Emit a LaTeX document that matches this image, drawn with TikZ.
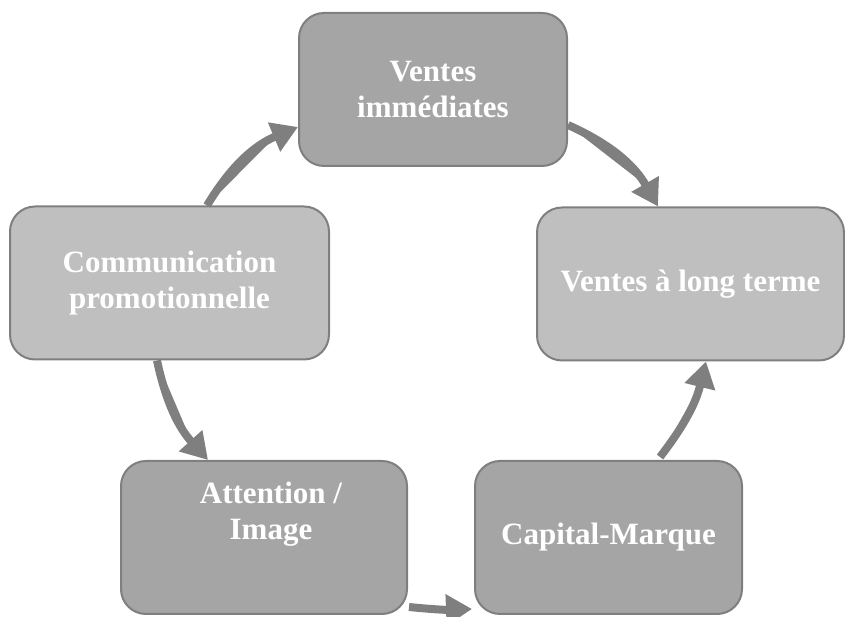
\documentclass[tikz,border=0pt]{standalone}
\usepackage{fontspec}
\setmainfont{Liberation Serif}
\usetikzlibrary{arrows.meta}
\definecolor{edgegray}{HTML}{7F7F7F}
\definecolor{darkfill}{HTML}{A5A5A5}
\definecolor{lightfill}{HTML}{BFBFBF}
\begin{document}
\begin{tikzpicture}[x=1pt,y=1pt,
  box/.style={draw=edgegray, line width=2pt, rounded corners=25pt, minimum height=153pt,
    inner sep=0pt, text=white, align=center,
    font=\fontsize{31}{36}\selectfont\bfseries},
  darkbox/.style={box, fill=darkfill},
  lightbox/.style={box, fill=lightfill},
  lbl/.style={text=white, align=center, inner sep=0pt, font=\fontsize{31}{36}\selectfont\bfseries},
  cyc/.style={draw=edgegray, line width=8pt, -{Triangle[length=26pt,width=30pt]}, fill=edgegray}
]
\useasboundingbox (0,0) rectangle (845,617);
\node[darkbox, minimum width=268pt] (vi) at (433,527.5) {Ventes\\immédiates};
\node[lightbox, minimum width=307pt] (vlt) at (690.5,333) {Ventes à long terme};
\node[darkbox, minimum width=267pt] (cap) at (608.5,79.5) {Capital-Marque};
\node[darkbox, minimum width=286pt] (att) at (264,79.5) {};
\node[lbl] (attlbl) at (271,103) {Attention /\\Image};
\node[lightbox, minimum width=319pt] (comm) at (169.5,334) {Communication\\promotionnelle};

\draw[cyc] ([xshift=37.5pt]comm.north) to[bend left=18] ([yshift=-37.5pt]vi.west);
\draw[cyc] ([yshift=-35.5pt]vi.east) to[bend left=18] ([xshift=-32.5pt]vlt.north);
\draw[cyc] ([xshift=51.5pt,yshift=3pt]cap.north) to[bend right=12] ([xshift=15.5pt]vlt.south);
\draw[cyc] ([xshift=1pt,yshift=8pt]att.south east) to[bend right=4] ([xshift=-2pt,yshift=6pt]cap.south west);
\draw[cyc] ([xshift=-12.5pt]comm.south) to[bend right=15] ([xshift=-56pt]att.north);
\end{tikzpicture}
\end{document}
